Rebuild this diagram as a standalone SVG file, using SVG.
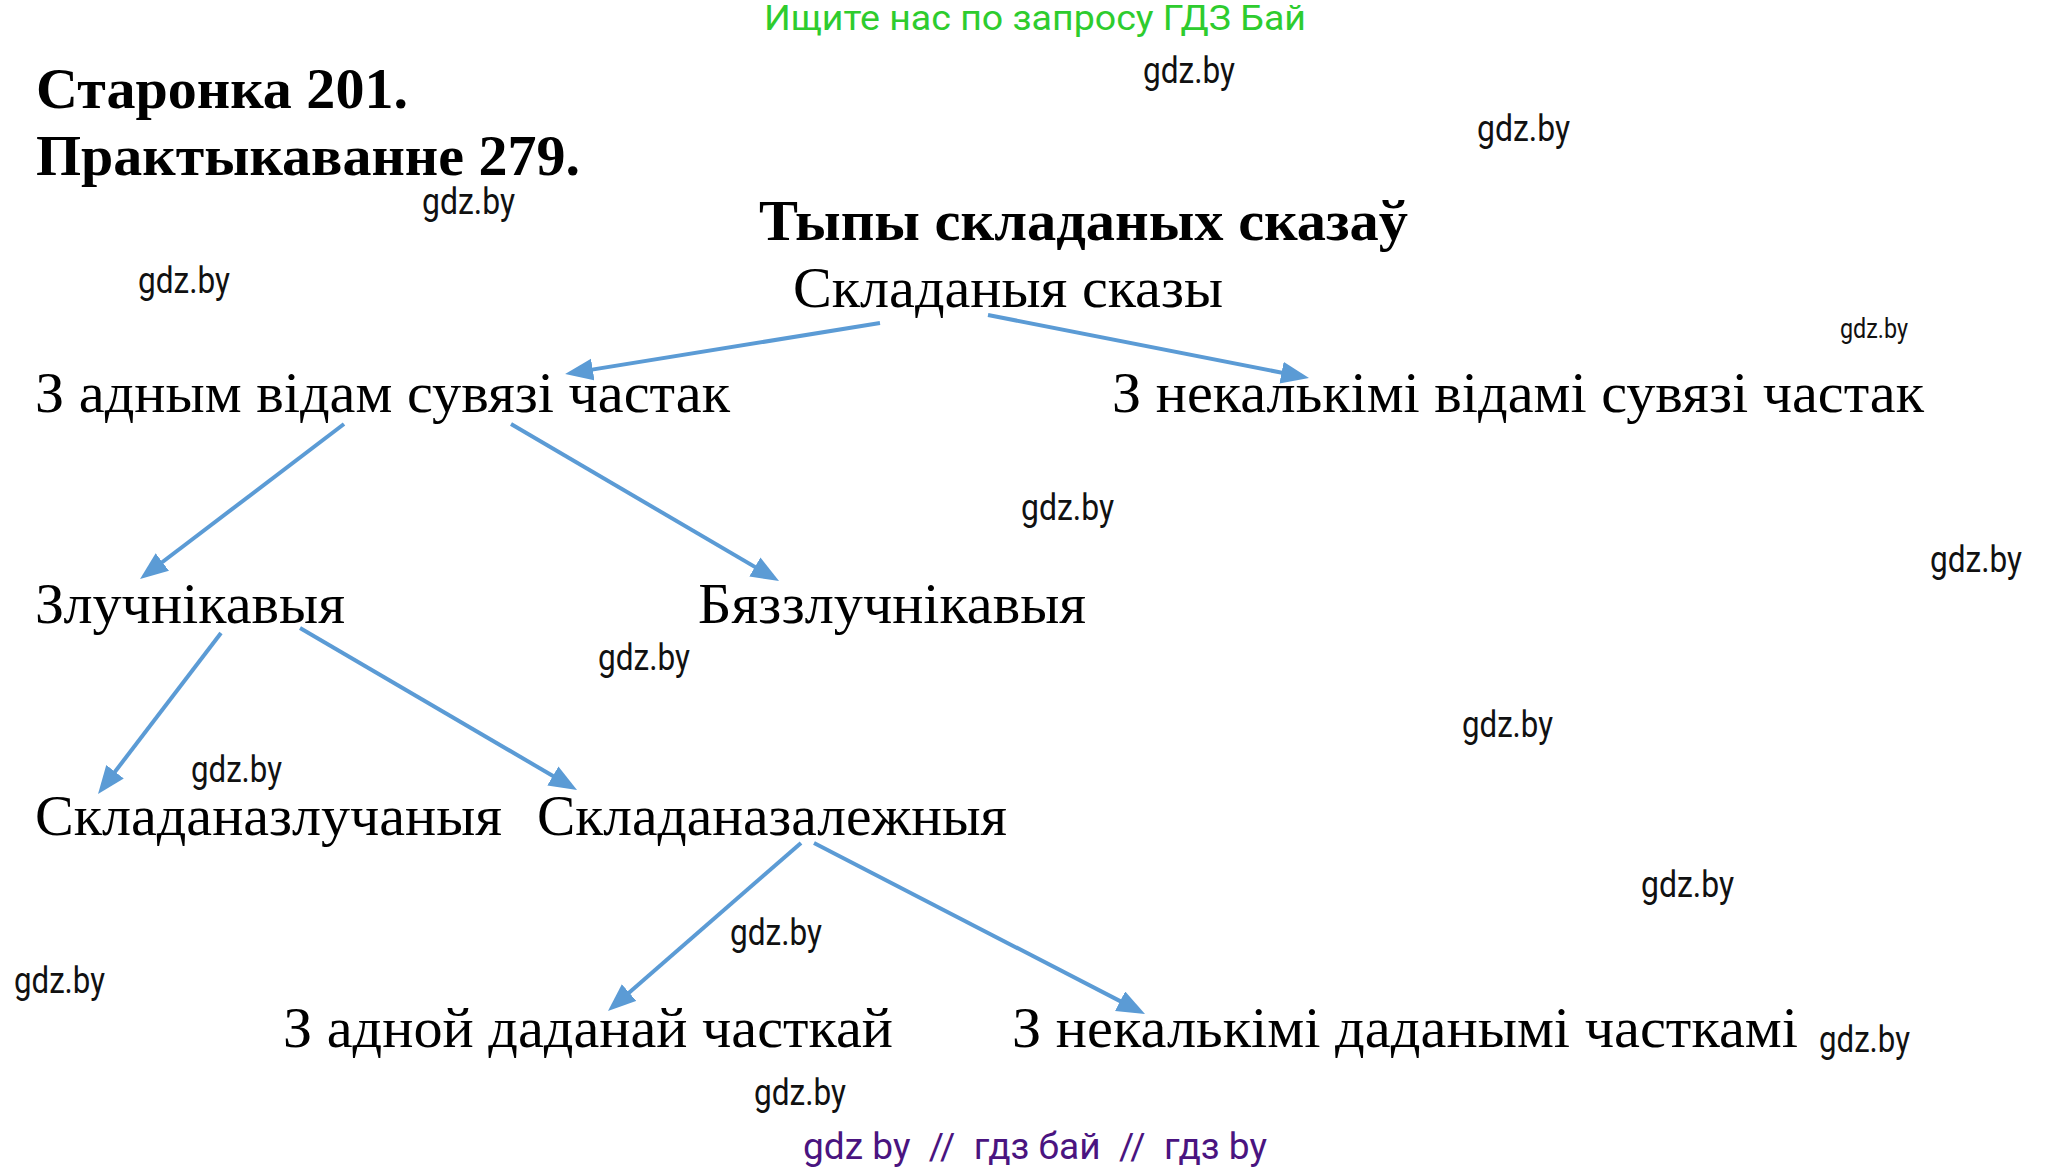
<svg xmlns="http://www.w3.org/2000/svg" width="2072" height="1174" viewBox="0 0 2072 1174">
<defs>
<style>
.h{font-family:"Liberation Serif","Times New Roman",serif;font-weight:bold;font-size:58px;fill:#000}
.n{font-family:"Liberation Serif","Times New Roman",serif;font-size:56px;fill:#000}
.w{font-family:Roboto,"Liberation Sans",Arial,sans-serif;font-size:36px;fill:#111}
.ws{font-family:Roboto,"Liberation Sans",Arial,sans-serif;font-size:27px;fill:#111}
.g{font-family:Roboto,"Liberation Sans",Arial,sans-serif;font-size:35px;fill:#2ecc2e}
.p{font-family:Roboto,"Liberation Sans",Arial,sans-serif;font-size:36px;fill:#4a1480;white-space:pre}
.c{stroke:#5b9bd5;stroke-width:4;fill:none}
</style>
<marker id="ah" markerUnits="userSpaceOnUse" markerWidth="30" markerHeight="24" refX="18" refY="11" orient="auto">
<path d="M0,0 L28,11 L0,22 z" fill="#5b9bd5"/>
</marker>
</defs>
<rect width="2072" height="1174" fill="#fff"/>
<text class="g" x="764" y="30" textLength="542" lengthAdjust="spacingAndGlyphs">Ищите нас по запросу ГДЗ Бай</text>
<g id="headers">
<text class="h" x="36" y="108" textLength="372" lengthAdjust="spacingAndGlyphs">Старонка 201.</text>
<text class="h" x="36" y="175" textLength="544" lengthAdjust="spacingAndGlyphs">Практыкаванне 279.</text>
<text class="h" x="759" y="240" textLength="649" lengthAdjust="spacingAndGlyphs">Тыпы складаных сказаў</text>
</g>
<g id="watermarks">
<text class="w" x="1143" y="83" textLength="92" lengthAdjust="spacingAndGlyphs">gdz.by</text>
<text class="w" x="1477" y="141" textLength="93" lengthAdjust="spacingAndGlyphs">gdz.by</text>
<text class="w" x="422" y="214" textLength="93" lengthAdjust="spacingAndGlyphs">gdz.by</text>
<text class="w" x="138" y="293" textLength="92" lengthAdjust="spacingAndGlyphs">gdz.by</text>
<text class="ws" x="1840" y="338" textLength="68" lengthAdjust="spacingAndGlyphs">gdz.by</text>
<text class="w" x="1021" y="520" textLength="93" lengthAdjust="spacingAndGlyphs">gdz.by</text>
<text class="w" x="1930" y="572" textLength="92" lengthAdjust="spacingAndGlyphs">gdz.by</text>
<text class="w" x="598" y="670" textLength="92" lengthAdjust="spacingAndGlyphs">gdz.by</text>
<text class="w" x="1462" y="737" textLength="91" lengthAdjust="spacingAndGlyphs">gdz.by</text>
<text class="w" x="191" y="782" textLength="91" lengthAdjust="spacingAndGlyphs">gdz.by</text>
<text class="w" x="1641" y="897" textLength="93" lengthAdjust="spacingAndGlyphs">gdz.by</text>
<text class="w" x="730" y="945" textLength="92" lengthAdjust="spacingAndGlyphs">gdz.by</text>
<text class="w" x="14" y="993" textLength="91" lengthAdjust="spacingAndGlyphs">gdz.by</text>
<text class="w" x="1819" y="1052" textLength="91" lengthAdjust="spacingAndGlyphs">gdz.by</text>
<text class="w" x="754" y="1105" textLength="92" lengthAdjust="spacingAndGlyphs">gdz.by</text>
</g>
<g id="connectors">
<line class="c" x1="880" y1="323" x2="575" y2="372.4" marker-end="url(#ah)"/>
<line class="c" x1="988" y1="315" x2="1299.2" y2="376.1" marker-end="url(#ah)"/>
<line class="c" x1="344" y1="424" x2="148" y2="573" marker-end="url(#ah)"/>
<line class="c" x1="511" y1="424" x2="770.4" y2="576" marker-end="url(#ah)"/>
<line class="c" x1="221" y1="633" x2="104.1" y2="786" marker-end="url(#ah)"/>
<line class="c" x1="300" y1="628" x2="568.4" y2="785" marker-end="url(#ah)"/>
<line class="c" x1="801" y1="843" x2="615.5" y2="1004.4" marker-end="url(#ah)"/>
<line class="c" x1="814" y1="843" x2="1136.1" y2="1009.4" marker-end="url(#ah)"/>
</g>
<g id="node-root"><text class="n" x="793" y="307" textLength="430" lengthAdjust="spacingAndGlyphs">Складаныя сказы</text></g>
<g id="node-one"><text class="n" x="35" y="412" textLength="695" lengthAdjust="spacingAndGlyphs">З адным відам сувязі частак</text></g>
<g id="node-many"><text class="n" x="1112" y="412" textLength="812" lengthAdjust="spacingAndGlyphs">З некалькімі відамі сувязі частак</text></g>
<g id="node-conj"><text class="n" x="35" y="623" textLength="310" lengthAdjust="spacingAndGlyphs">Злучнікавыя</text></g>
<g id="node-nonconj"><text class="n" x="698" y="623" textLength="388" lengthAdjust="spacingAndGlyphs">Бяззлучнікавыя</text></g>
<g id="node-compound"><text class="n" x="35" y="835" textLength="467" lengthAdjust="spacingAndGlyphs">Складаназлучаныя</text></g>
<g id="node-complex"><text class="n" x="537" y="835" textLength="470" lengthAdjust="spacingAndGlyphs">Складаназалежныя</text></g>
<g id="node-single"><text class="n" x="283" y="1047" textLength="610" lengthAdjust="spacingAndGlyphs">З адной даданай часткай</text></g>
<g id="node-multi"><text class="n" x="1012" y="1047" textLength="786" lengthAdjust="spacingAndGlyphs">З некалькімі даданымі часткамі</text></g>
<text class="p" x="803" y="1159" textLength="464" lengthAdjust="spacingAndGlyphs">gdz by  //  гдз бай  //  гдз by</text>
</svg>
